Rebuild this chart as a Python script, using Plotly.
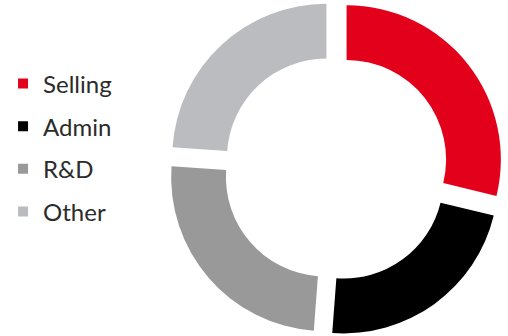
import plotly.graph_objects as go

labels = ["Selling", "Admin", "R&D", "Other"]
values = [28.8, 22.4, 24.9, 23.9]
colors = ["#E3001B", "#000000", "#999999", "#BBBCC0"]

fig = go.Figure()

fig.add_trace(
    go.Pie(
        labels=labels,
        values=values,
        hole=0.645,
        sort=False,
        direction="clockwise",
        rotation=0,
        pull=[0.089] * len(values),
        marker=dict(colors=colors, line=dict(width=0)),
        textinfo="none",
        hoverinfo="label+percent",
        domain=dict(x=[0.322, 1.0], y=[0.0, 1.0]),
        showlegend=False,
    )
)

# legend entries (one per slice, same labels/colours)
for lab, col in zip(labels, colors):
    fig.add_trace(
        go.Scatter(
            x=[None],
            y=[None],
            mode="markers",
            name=lab,
            legendgroup=lab,
            marker=dict(symbol="square", size=10, color=col),
            showlegend=True,
            hoverinfo="skip",
        )
    )

fig.update_layout(
    width=508,
    height=336,
    margin=dict(l=0, r=0, t=0, b=0),
    paper_bgcolor="white",
    plot_bgcolor="white",
    xaxis=dict(visible=False),
    yaxis=dict(visible=False),
    showlegend=True,
    legend=dict(
        x=0.006,
        y=0.56,
        xanchor="left",
        yanchor="middle",
        traceorder="grouped",
        tracegroupgap=8.5,
        font=dict(family="Lato", size=24, color="#2b2b2b"),
        bgcolor="rgba(0,0,0,0)",
    ),
)

fig.write_html("out.html")
